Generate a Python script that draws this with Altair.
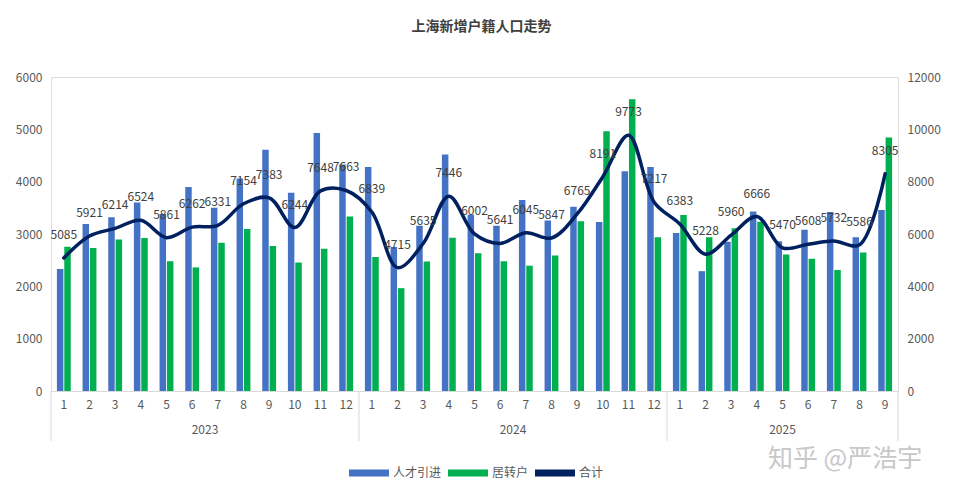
import altair as alt
import pandas as pd

years = ["2023"] * 12 + ["2024"] * 12 + ["2025"] * 9
months = list(range(1, 13)) + list(range(1, 13)) + list(range(1, 10))
talent = [2330, 3190, 3320, 3600, 3380, 3900, 3500, 4060, 4610, 3790, 4930, 4330,
          4280, 2750, 3160, 4520, 3370, 3160, 3650, 3260, 3520, 3230, 4200, 4280,
          3020, 2290, 2850, 3430, 2860, 3080, 3420, 2940, 3460]
total = [5085, 5921, 6214, 6524, 5861, 6262, 6331, 7154, 7383, 6244, 7648, 7663,
         6839, 4715, 5635, 7446, 6002, 5641, 6045, 5847, 6765, 8191, 9773, 7217,
         6383, 5228, 5960, 6666, 5470, 5608, 5732, 5586, 8305]
transfer = [t - a for t, a in zip(total, talent)]

year_names = ["2023", "2024", "2025"]
year_counts = [12, 12, 9]

keys = [f"{y}-{m:02d}" for y, m in zip(years, months)]
df = pd.DataFrame({"key": keys, "人才引进": talent, "居转户": transfer, "合计": total})

starts = [sum(year_counts[:i]) for i in range(len(year_counts))]
ydf = pd.DataFrame({"year": year_names, "start": starts, "count": year_counts})
edge_df = pd.DataFrame({"edge": starts + [sum(year_counts)]})

W, H = 847, 314
FONT = "Noto Sans CJK SC"
series_order = ["人才引进", "居转户", "合计"]
color_scale = alt.Scale(domain=series_order, range=["#4472C4", "#00B050", "#002060"])

xband = alt.X("key:N", sort=keys,
              scale=alt.Scale(paddingInner=0.46, paddingOuter=0.23),
              axis=alt.Axis(title=None, labelAngle=0, ticks=False, domainColor="#d9d9d9",
                            labelColor="#595959", labelFontSize=12, labelPadding=8,
                            labelExpr="parseInt(substring(datum.value, 5))"))

bars = alt.Chart(df).transform_fold(["人才引进", "居转户"], as_=["series", "value"]).mark_bar().encode(
    x=xband,
    xOffset=alt.XOffset("series:N", sort=["人才引进", "居转户"], scale=alt.Scale(paddingInner=0.12)),
    y=alt.Y("value:Q", scale=alt.Scale(domain=[0, 6000], nice=False),
            axis=alt.Axis(title=None, values=list(range(0, 6001, 1000)), format="d", grid=False,
                          domain=False, ticks=False, labelColor="#595959", labelFontSize=12,
                          labelPadding=9)),
    color=alt.Color("series:N", scale=color_scale,
                    legend=alt.Legend(title=None, orient="none", legendX=298, legendY=376,
                                      direction="horizontal", values=series_order)),
)

yright = alt.Y("合计:Q", scale=alt.Scale(domain=[0, 12000], nice=False),
               axis=alt.Axis(title=None, orient="right", values=list(range(0, 12001, 2000)), format="d",
                             grid=False, domain=False, ticks=False, labelColor="#595959",
                             labelFontSize=12, labelPadding=9))

line = alt.Chart(df).transform_calculate(series="'合计'").mark_line(
    interpolate="catmull-rom", strokeWidth=3.5, strokeCap="round").encode(
    x=alt.X("key:N", sort=keys),
    y=yright,
    color=alt.Color("series:N", scale=color_scale, legend=None),
)

labels = alt.Chart(df).mark_text(fontSize=12, color="#404040", baseline="middle", dy=-23, font=FONT).encode(
    x=alt.X("key:N", sort=keys),
    y=yright,
    text=alt.Text("合计:Q", format="d"),
)

main = alt.layer(bars, alt.layer(line, labels)).resolve_scale(y="independent")

xq = alt.Scale(domain=[0, sum(year_counts)], nice=False, zero=False)

year_text = alt.Chart(ydf).transform_calculate(mid="datum.start + datum.count / 2").mark_text(
    fontSize=12, color="#595959", font=FONT, baseline="middle").encode(
    x=alt.X("mid:Q", scale=xq, axis=None),
    y=alt.value(H + 39),
    text="year:N",
)

year_rules = alt.Chart(edge_df).mark_rule(color="#d9d9d9", strokeWidth=1).encode(
    x=alt.X("edge:Q", scale=xq, axis=None),
    y=alt.value(H),
    y2=alt.value(H + 50),
)

wm = alt.Chart(pd.DataFrame({"t": ["知乎 @严浩宇"]})).mark_text(
    fontSize=25, color="#c8c8c8", font=FONT, baseline="middle", align="center").encode(
    x=alt.value(794), y=alt.value(382), text="t:N")

chart = alt.layer(main, year_text, year_rules, wm).resolve_scale(x="independent").properties(
    width=W, height=H,
    padding={"left": 7, "top": 12, "right": 5, "bottom": 5},
    title=alt.Title("上海新增户籍人口走势", fontSize=14, fontWeight="bold", color="#404040",
                    offset=37, anchor="middle", dx=7, font=FONT),
).configure_view(stroke=None).configure(font=FONT).configure_legend(
    symbolType="M-1,-0.18H1V0.18H-1Z", symbolSize=1600, symbolStrokeWidth=0,
    labelFontSize=12, labelColor="#595959", labelOffset=4, columnPadding=6, labelFont=FONT,
)

chart.save("out.html", embed_options={"renderer": "svg", "actions": False})
